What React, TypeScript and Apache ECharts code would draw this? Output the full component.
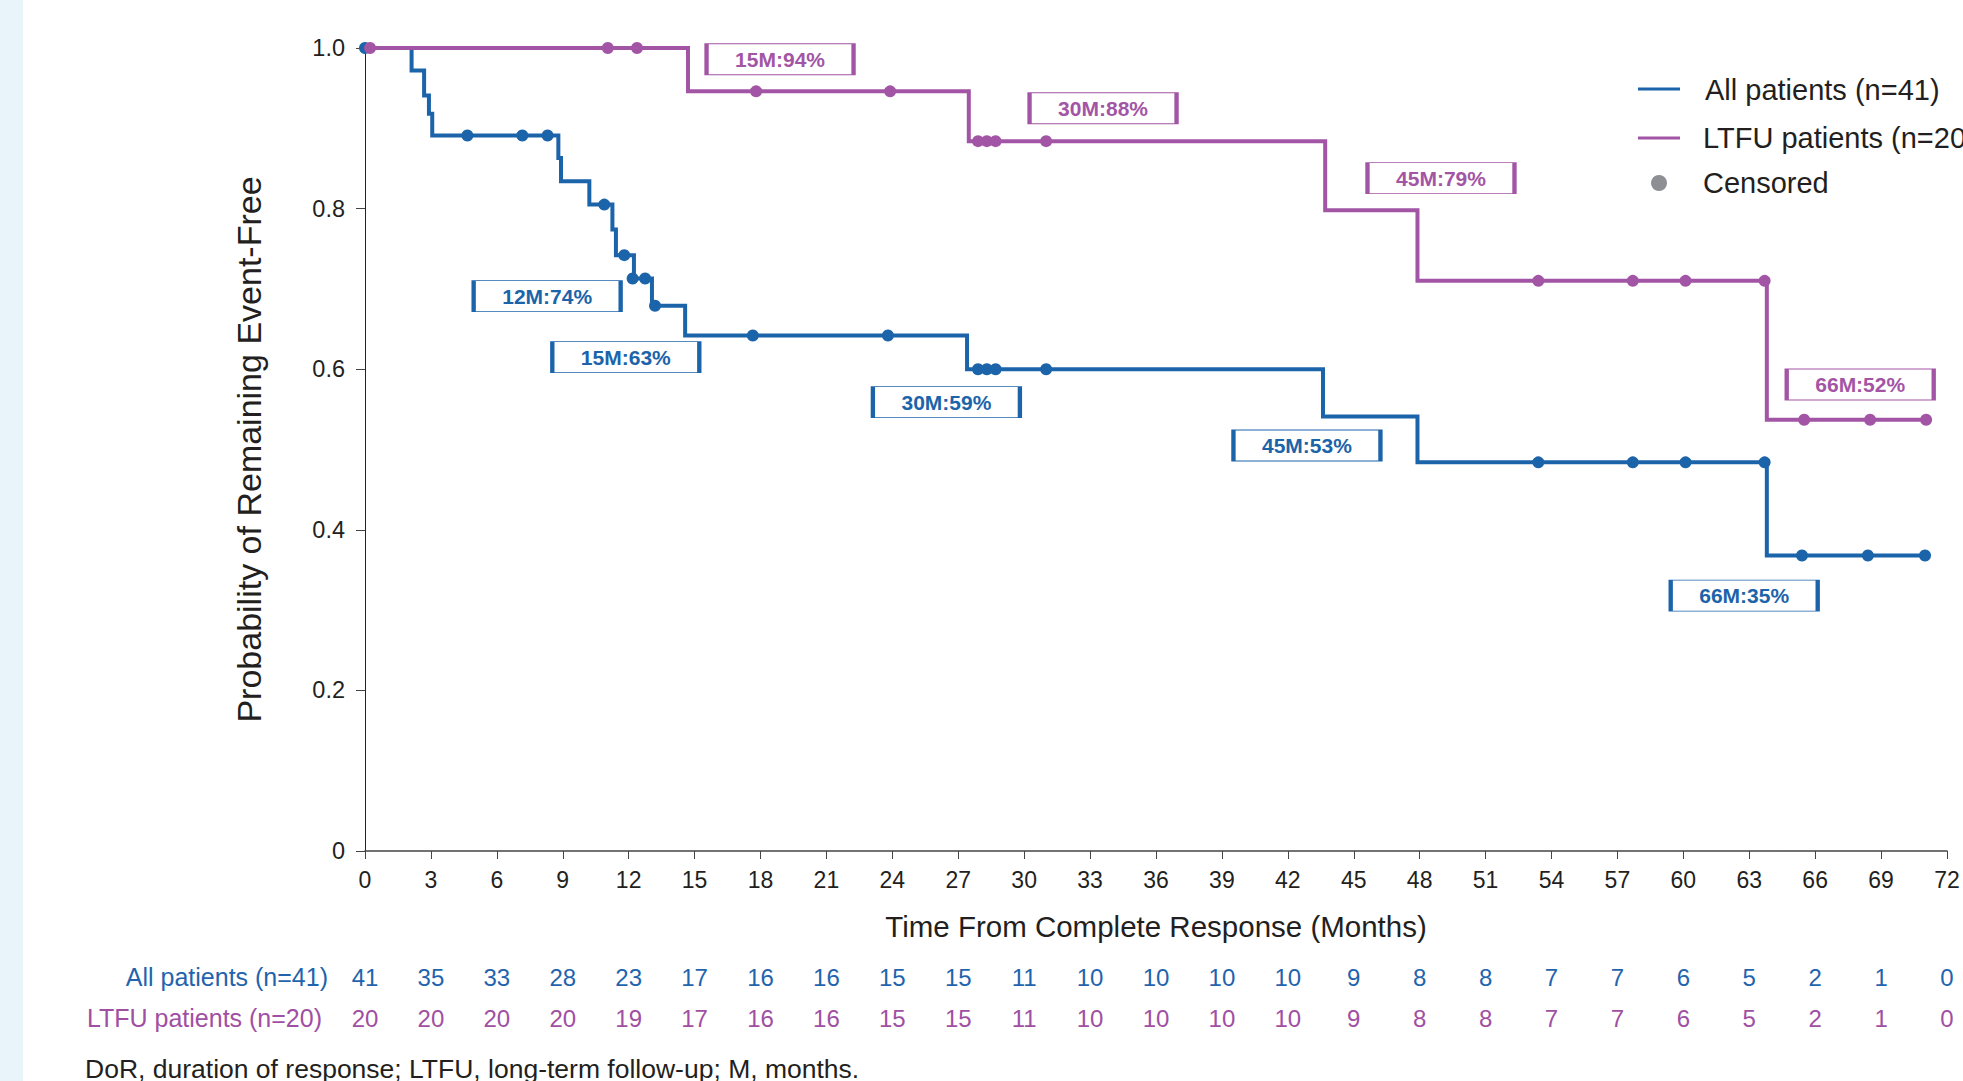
import React, { useEffect, useRef } from "react";
import * as echarts from "echarts";

const BLUE = "#1c64aa";
const PURPLE = "#a355a5";
const TEXT_BLUE = "#1f64ad";
const TEXT_PURPLE = "#a04fa3";
const DARK = "#231f20";
const FONT = "'Liberation Sans', Arial, sans-serif";

// x-axis tick positions (months)
const monthTicks = [0, 3, 6, 9, 12, 15, 18, 21, 24, 27, 30, 33, 36, 39, 42, 45, 48, 51, 54, 57, 60, 63, 66, 69, 72];

// Kaplan-Meier step points: [month, probability]
const allSteps: [number, number][] = [
  [0, 1.0], [2.12, 0.972], [2.69, 0.941], [2.91, 0.918], [3.06, 0.891],
  [8.8, 0.863], [8.92, 0.834], [10.21, 0.805], [11.26, 0.774], [11.42, 0.742],
  [12.24, 0.713], [13.06, 0.679], [14.57, 0.642], [27.4, 0.6], [43.6, 0.541],
  [47.9, 0.484], [63.8, 0.368], [71.0, 0.368],
];
const allCensored: [number, number][] = [
  [0, 1.0], [4.66, 0.891], [7.16, 0.891], [8.31, 0.891], [10.89, 0.805],
  [11.8, 0.742], [12.18, 0.713], [12.75, 0.713], [13.2, 0.679], [17.65, 0.642],
  [23.8, 0.642], [27.9, 0.6], [28.3, 0.6], [28.7, 0.6], [31.0, 0.6],
  [53.4, 0.484], [57.7, 0.484], [60.1, 0.484], [63.7, 0.484],
  [65.4, 0.368], [68.4, 0.368], [71.0, 0.368],
];
const ltfuSteps: [number, number][] = [
  [0, 1.0], [14.7, 0.946], [27.48, 0.884], [43.7, 0.798], [47.9, 0.71],
  [63.8, 0.537], [71.05, 0.537],
];
const ltfuCensored: [number, number][] = [
  [0.23, 1.0], [11.05, 1.0], [12.38, 1.0], [17.8, 0.946], [23.9, 0.946],
  [27.9, 0.884], [28.3, 0.884], [28.7, 0.884], [31.0, 0.884],
  [53.4, 0.71], [57.7, 0.71], [60.1, 0.71], [63.7, 0.71],
  [65.5, 0.537], [68.5, 0.537], [71.05, 0.537],
];

// Number at risk
const riskAll = [41, 35, 33, 28, 23, 17, 16, 16, 15, 15, 11, 10, 10, 10, 10, 9, 8, 8, 7, 7, 6, 5, 2, 1, 0];
const riskLtfu = [20, 20, 20, 20, 19, 17, 16, 16, 15, 15, 11, 10, 10, 10, 10, 9, 8, 8, 7, 7, 6, 5, 2, 1, 0];

// Landmark annotations: label and anchor in data coordinates
const annAllLabels = ["12M:74%", "15M:63%", "30M:59%", "45M:53%", "66M:35%"];
const annAllPos: [number, number][] = [[8.29, 0.691], [11.87, 0.615], [26.46, 0.559], [42.87, 0.505], [62.77, 0.318]];
const annLtfuLabels = ["15M:94%", "30M:88%", "45M:79%", "66M:52%"];
const annLtfuPos: [number, number][] = [[18.89, 0.986], [33.59, 0.925], [48.97, 0.838], [68.05, 0.581]];

const seriesNames = ["All patients (n=41)", "LTFU patients (n=20)"];

function annotationSeries(labels: string[], pos: [number, number][], color: string) {
  return {
    type: "scatter",
    z: 10,
    symbol: "rect",
    symbolSize: [147, 31],
    itemStyle: { color: "#ffffff", borderColor: color, borderWidth: 2, opacity: 1 },
    label: {
      show: true,
      position: "inside",
      formatter: "{b}",
      color,
      fontFamily: FONT,
      fontWeight: "bold",
      fontSize: 21,
    },
    emphasis: { disabled: true },
    data: labels.map((l, i) => ({ name: l, value: pos[i] })),
  };
}

function riskAxis(values: number[], color: string, offset: number) {
  return {
    type: "value",
    gridIndex: 0,
    min: 0,
    max: 72,
    interval: 3,
    position: "bottom",
    offset,
    axisLine: { show: false },
    axisTick: { show: false },
    splitLine: { show: false },
    axisLabel: {
      margin: 0,
      color,
      fontFamily: FONT,
      fontSize: 24,
      formatter: (v: number) => {
        const i = monthTicks.indexOf(v);
        return i >= 0 ? String(values[i]) : "";
      },
    },
  };
}

export default function App() {
  const ref = useRef<HTMLDivElement>(null);
  useEffect(() => {
    if (!ref.current) return;
    const chart = echarts.init(ref.current, undefined, { renderer: "svg" });
    const textStyle = (size: number, fill: string, align: string) => ({
      fill,
      font: `${size}px ${FONT}`,
      textAlign: align,
      align,
      textVerticalAlign: "middle",
      verticalAlign: "middle",
    });
    const option: any = {
      animation: false,
      backgroundColor: "#ffffff",
      grid: { left: 365, right: 16, top: 48, bottom: 230, containLabel: false },
      xAxis: [
        {
          type: "value",
          min: 0,
          max: 72,
          interval: 3,
          name: "Time From Complete Response (Months)",
          nameLocation: "middle",
          nameGap: 60,
          nameTextStyle: { color: DARK, fontFamily: FONT, fontSize: 29.5 },
          axisLine: { show: true, onZero: false, lineStyle: { color: "#444", width: 1.5 } },
          axisTick: { show: true, length: 8, lineStyle: { color: "#444", width: 1 } },
          splitLine: { show: false },
          axisLabel: { color: DARK, fontFamily: FONT, fontSize: 23, margin: 17 },
        },
        riskAxis(riskAll, TEXT_BLUE, 114),
        riskAxis(riskLtfu, TEXT_PURPLE, 155),
      ],
      yAxis: {
        type: "value",
        min: 0,
        max: 1,
        interval: 0.2,
        name: "Probability of Remaining Event-Free",
        nameLocation: "middle",
        nameGap: 99,
        nameRotate: 90,
        nameTextStyle: { color: DARK, fontFamily: FONT, fontSize: 34 },
        axisLine: { show: true, lineStyle: { color: "#222", width: 1 } },
        axisTick: { show: true, length: 9, lineStyle: { color: "#444", width: 1 } },
        splitLine: { show: false },
        axisLabel: {
          color: DARK,
          fontFamily: FONT,
          fontSize: 23.5,
          margin: 20,
          formatter: (v: number) => (v === 0 ? "0" : v.toFixed(1)),
        },
      },
      series: [
        {
          name: seriesNames[0],
          type: "line",
          step: "end",
          showSymbol: false,
          lineStyle: { color: BLUE, width: 4, join: "miter", cap: "butt" },
          data: allSteps,
          z: 2,
        },
        {
          name: seriesNames[0] + " censored",
          type: "scatter",
          symbol: "circle",
          symbolSize: 12,
          itemStyle: { color: BLUE, opacity: 1 },
          data: allCensored,
          z: 3,
        },
        {
          name: seriesNames[1],
          type: "line",
          step: "end",
          showSymbol: false,
          lineStyle: { color: PURPLE, width: 4, join: "miter", cap: "butt" },
          data: ltfuSteps,
          z: 4,
        },
        {
          name: seriesNames[1] + " censored",
          type: "scatter",
          symbol: "circle",
          symbolSize: 12,
          itemStyle: { color: PURPLE, opacity: 1 },
          data: ltfuCensored,
          z: 5,
        },
        annotationSeries(annAllLabels, annAllPos, BLUE),
        annotationSeries(annLtfuLabels, annLtfuPos, PURPLE),
      ],
      graphic: [
        { type: "rect", z: -10, shape: { x: 0, y: 0, width: 23, height: 1081 }, style: { fill: "#e9f3fa" } },
        // legend
        { type: "line", shape: { x1: 1638, y1: 89, x2: 1680, y2: 89 }, style: { stroke: BLUE, lineWidth: 3 } },
        { type: "line", shape: { x1: 1638, y1: 138, x2: 1680, y2: 138 }, style: { stroke: PURPLE, lineWidth: 3 } },
        { type: "circle", shape: { cx: 1659, cy: 183, r: 8 }, style: { fill: "#8e8f94" } },
        { type: "text", x: 1705, y: 90, style: { text: seriesNames[0], ...textStyle(29, DARK, "left") } },
        { type: "text", x: 1703, y: 138, style: { text: seriesNames[1], ...textStyle(29, DARK, "left") } },
        { type: "text", x: 1703, y: 183, style: { text: "Censored", ...textStyle(29, DARK, "left") } },
        // risk table row labels
        { type: "text", x: 328, y: 977, style: { text: seriesNames[0], ...textStyle(25, TEXT_BLUE, "right") } },
        { type: "text", x: 322, y: 1018, style: { text: seriesNames[1], ...textStyle(25, TEXT_PURPLE, "right") } },
        // footnote
        {
          type: "text", x: 85, y: 1069,
          style: { text: "DoR, duration of response; LTFU, long-term follow-up; M, months.", ...textStyle(26.5, DARK, "left") },
        },
      ],
    };
    chart.setOption(option);
    return () => chart.dispose();
  }, []);
  return (
    <div
      ref={ref}
      style={{ position: "fixed", left: 0, top: 0, width: 1963, height: 1081, background: "#fff" }}
    />
  );
}
